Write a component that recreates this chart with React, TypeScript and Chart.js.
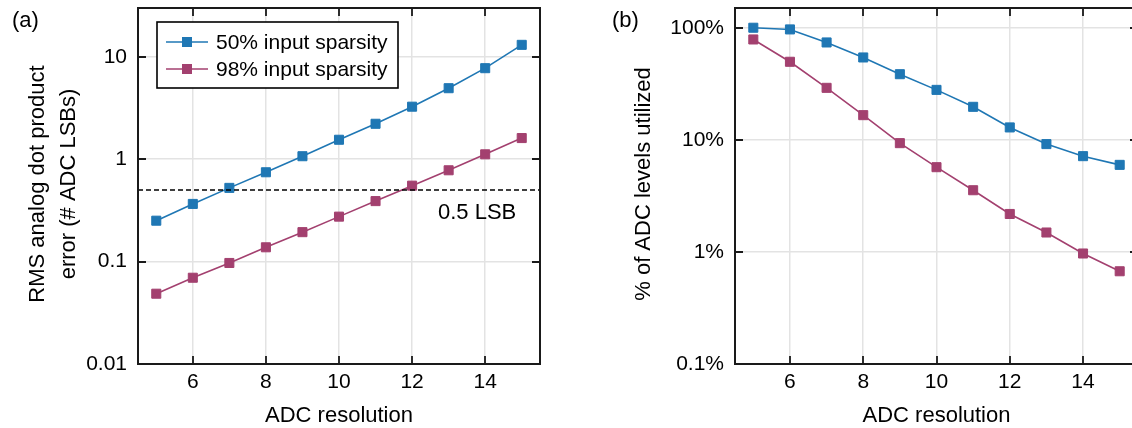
import React, { useEffect, useRef } from 'react';
import { Chart, registerables } from 'chart.js';

Chart.register(...registerables);

// ---------- data ----------
const resolution = [5, 6, 7, 8, 9, 10, 11, 12, 13, 14, 15];
const errorSparsity50 = [0.251, 0.366, 0.525, 0.746, 1.07, 1.55, 2.22, 3.26, 4.94, 7.75, 13.1];
const errorSparsity98 = [0.0486, 0.0696, 0.097, 0.138, 0.194, 0.275, 0.39, 0.552, 0.78, 1.117, 1.61];
const utilSparsity50 = [100, 96.6, 73.9, 54.3, 38.5, 27.9, 19.7, 12.9, 9.16, 7.15, 5.98];
const utilSparsity98 = [78.6, 49.7, 29.1, 16.6, 9.34, 5.7, 3.55, 2.18, 1.49, 0.968, 0.672];
const seriesNames = ['50% input sparsity', '98% input sparsity'];
const seriesColors = ['#1f77b4', '#a3406f'];
const xTicks = [6, 8, 10, 12, 14];
const errorTicks = [0.01, 0.1, 1, 10];
const errorTickLabels = ['0.01', '0.1', '1', '10'];
const utilTicks = [0.1, 1, 10, 100];
const utilTickLabels = ['0.1%', '1%', '10%', '100%'];
const lsbThreshold = 0.5;
const lsbLabel = '0.5 LSB';
const lsbLabelX = 14.85;
const xTitle = 'ADC resolution';
const errorTitle = ['RMS analog dot product', 'error (# ADC LSBs)'];
const utilTitle = ['% of ADC levels utilized'];

const FONT = '"Liberation Sans", Arial, Helvetica, sans-serif';

function pts(ys: number[]) {
  return resolution.map((x, i) => ({ x, y: ys[i] }));
}

function seriesDataset(label: string, ys: number[], color: string) {
  return {
    label,
    data: pts(ys),
    borderColor: color,
    backgroundColor: color,
    borderWidth: 1.6,
    pointStyle: 'rect',
    pointRadius: 6.4,
    pointHoverRadius: 6.4,
    pointBorderWidth: 1,
    pointBorderColor: color,
    pointBackgroundColor: color,
    tension: 0,
  };
}

type PanelOpts = {
  panel: string;
  panelX: number;
  yTitle: string[];
  yTitleX: number[];
  legend: boolean;
  annotation: boolean;
};

const decorPlugin = {
  id: 'decor',
  afterDatasetsDraw(chart: any, _args: any, o: PanelOpts) {
    const { ctx, chartArea: a, scales } = chart;
    ctx.save();
    // inward ticks
    ctx.strokeStyle = '#1a1a1a';
    ctx.lineWidth = 1.8;
    ctx.beginPath();
    for (const t of scales.x.ticks) {
      const px = Math.round(scales.x.getPixelForValue(t.value));
      ctx.moveTo(px, a.bottom);
      ctx.lineTo(px, a.bottom - 8);
      ctx.moveTo(px, a.top);
      ctx.lineTo(px, a.top + 8);
    }
    for (const t of scales.y.ticks) {
      const py = Math.round(scales.y.getPixelForValue(t.value));
      ctx.moveTo(a.left, py);
      ctx.lineTo(a.left + 8, py);
      ctx.moveTo(a.right, py);
      ctx.lineTo(a.right - 8, py);
    }
    ctx.stroke();
    // frame
    ctx.lineWidth = 2;
    ctx.strokeRect(a.left, a.top, a.right - a.left, a.bottom - a.top);
    ctx.restore();
  },
  afterDraw(chart: any, _args: any, o: PanelOpts) {
    const { ctx, chartArea: a, scales } = chart;
    ctx.save();
    ctx.fillStyle = '#000';
    // panel label
    ctx.font = `22px ${FONT}`;
    ctx.textAlign = 'left';
    ctx.textBaseline = 'middle';
    ctx.fillText(o.panel, o.panelX, 21);
    // x title
    ctx.textAlign = 'center';
    ctx.textBaseline = 'alphabetic';
    ctx.fillText(xTitle, (a.left + a.right) / 2, 422);
    // y title
    const cy = (a.top + a.bottom) / 2 - 2;
    o.yTitle.forEach((line, i) => {
      ctx.save();
      ctx.translate(o.yTitleX[i], cy);
      ctx.rotate(-Math.PI / 2);
      ctx.textAlign = 'center';
      ctx.textBaseline = 'middle';
      ctx.fillText(line, 0, 0);
      ctx.restore();
    });
    // annotation
    if (o.annotation) {
      ctx.textAlign = 'right';
      ctx.textBaseline = 'middle';
      ctx.fillText(lsbLabel, scales.x.getPixelForValue(lsbLabelX), scales.y.getPixelForValue(lsbThreshold) + 23);
    }
    // legend
    if (o.legend) {
      const bx = 157, by = 22, bw = 241, bh = 66;
      ctx.fillStyle = '#fff';
      ctx.fillRect(bx, by, bw, bh);
      ctx.strokeStyle = '#000';
      ctx.lineWidth = 1.6;
      ctx.strokeRect(bx, by, bw, bh);
      const rows = [42, 69];
      seriesNames.forEach((name, i) => {
        const y = rows[i];
        ctx.strokeStyle = seriesColors[i];
        ctx.fillStyle = seriesColors[i];
        ctx.lineWidth = 1.6;
        ctx.beginPath();
        ctx.moveTo(166, y);
        ctx.lineTo(208, y);
        ctx.stroke();
        ctx.fillRect(187 - 5, y - 5, 10, 10);
        ctx.fillStyle = '#000';
        ctx.font = `21px ${FONT}`;
        ctx.textAlign = 'left';
        ctx.textBaseline = 'middle';
        ctx.fillText(name, 216, y + 1);
      });
    }
    ctx.restore();
  },
};

function makeConfig(
  datasets: any[],
  yMin: number,
  yMax: number,
  yTickVals: number[],
  yTickLabels: string[],
  yAxisWidth: number,
  padRight: number,
  decor: PanelOpts
) {
  return {
    type: 'line',
    data: { datasets },
    plugins: [decorPlugin],
    options: {
      animation: false,
      responsive: false,
      maintainAspectRatio: false,
      devicePixelRatio: 1,
      events: [],
      layout: { padding: { left: 0, right: padRight, top: 8, bottom: 0 } },
      plugins: {
        legend: { display: false },
        tooltip: { enabled: false },
        decor,
      },
      scales: {
        x: {
          type: 'linear',
          min: 4.5,
          max: 15.5,
          afterBuildTicks: (s: any) => {
            s.ticks = xTicks.map((v) => ({ value: v }));
          },
          afterFit: (s: any) => {
            s.height = 64;
            s.paddingLeft = 0;
            s.paddingRight = 0;
            s.paddingTop = 0;
            s.paddingBottom = 0;
          },
          ticks: {
            font: { family: FONT, size: 21 },
            color: '#000',
            padding: 6,
            maxRotation: 0,
            autoSkip: false,
            callback: (v: any) => String(v),
          },
          grid: { color: '#e3e3e3', lineWidth: 1.5, drawTicks: false },
          border: { display: false },
        },
        y: {
          type: 'logarithmic',
          min: yMin,
          max: yMax,
          afterBuildTicks: (s: any) => {
            s.ticks = yTickVals.map((v) => ({ value: v }));
          },
          afterFit: (s: any) => {
            s.width = yAxisWidth;
            s.paddingLeft = 0;
            s.paddingRight = 0;
            s.paddingTop = 0;
            s.paddingBottom = 0;
          },
          ticks: {
            font: { family: FONT, size: 21 },
            color: '#000',
            padding: 11,
            autoSkip: false,
            callback: (v: any) => {
              const idx = yTickVals.findIndex((t) => Math.abs(t - v) / t < 1e-6);
              return idx >= 0 ? yTickLabels[idx] : '';
            },
          },
          grid: { color: '#e3e3e3', lineWidth: 1.5, drawTicks: false },
          border: { display: false },
        },
      },
    },
  };
}

export default function App() {
  const leftRef = useRef<HTMLCanvasElement>(null);
  const rightRef = useRef<HTMLCanvasElement>(null);

  useEffect(() => {
    const left = new Chart(
      leftRef.current as HTMLCanvasElement,
      makeConfig(
        [
          {
            label: 'threshold',
            data: [
              { x: 4.5, y: lsbThreshold },
              { x: 15.5, y: lsbThreshold },
            ],
            borderColor: '#000',
            borderWidth: 1.5,
            borderDash: [5, 3],
            pointRadius: 0,
          },
          seriesDataset(seriesNames[0], errorSparsity50, seriesColors[0]),
          seriesDataset(seriesNames[1], errorSparsity98, seriesColors[1]),
        ],
        0.01,
        30,
        errorTicks,
        errorTickLabels,
        138,
        30,
        { panel: '(a)', panelX: 12, yTitle: errorTitle, yTitleX: [38, 69], legend: true, annotation: true }
      ) as any
    );
    const right = new Chart(
      rightRef.current as HTMLCanvasElement,
      makeConfig(
        [
          seriesDataset(seriesNames[0], utilSparsity50, seriesColors[0]),
          seriesDataset(seriesNames[1], utilSparsity98, seriesColors[1]),
        ],
        0.1,
        150,
        utilTicks,
        utilTickLabels,
        165,
        12,
        { panel: '(b)', panelX: 42, yTitle: utilTitle, yTitleX: [74], legend: false, annotation: false }
      ) as any
    );
    return () => {
      left.destroy();
      right.destroy();
    };
  }, []);

  return (
    <div
      style={{
        position: 'fixed',
        left: 0,
        top: 0,
        width: 1132,
        height: 428,
        overflow: 'hidden',
        background: '#fff',
      }}
    >
      <canvas
        ref={leftRef}
        width={570}
        height={428}
        style={{ position: 'absolute', left: 0, top: 0, width: 570, height: 428 }}
      />
      <canvas
        ref={rightRef}
        width={580}
        height={428}
        style={{ position: 'absolute', left: 570, top: 0, width: 580, height: 428 }}
      />
    </div>
  );
}
